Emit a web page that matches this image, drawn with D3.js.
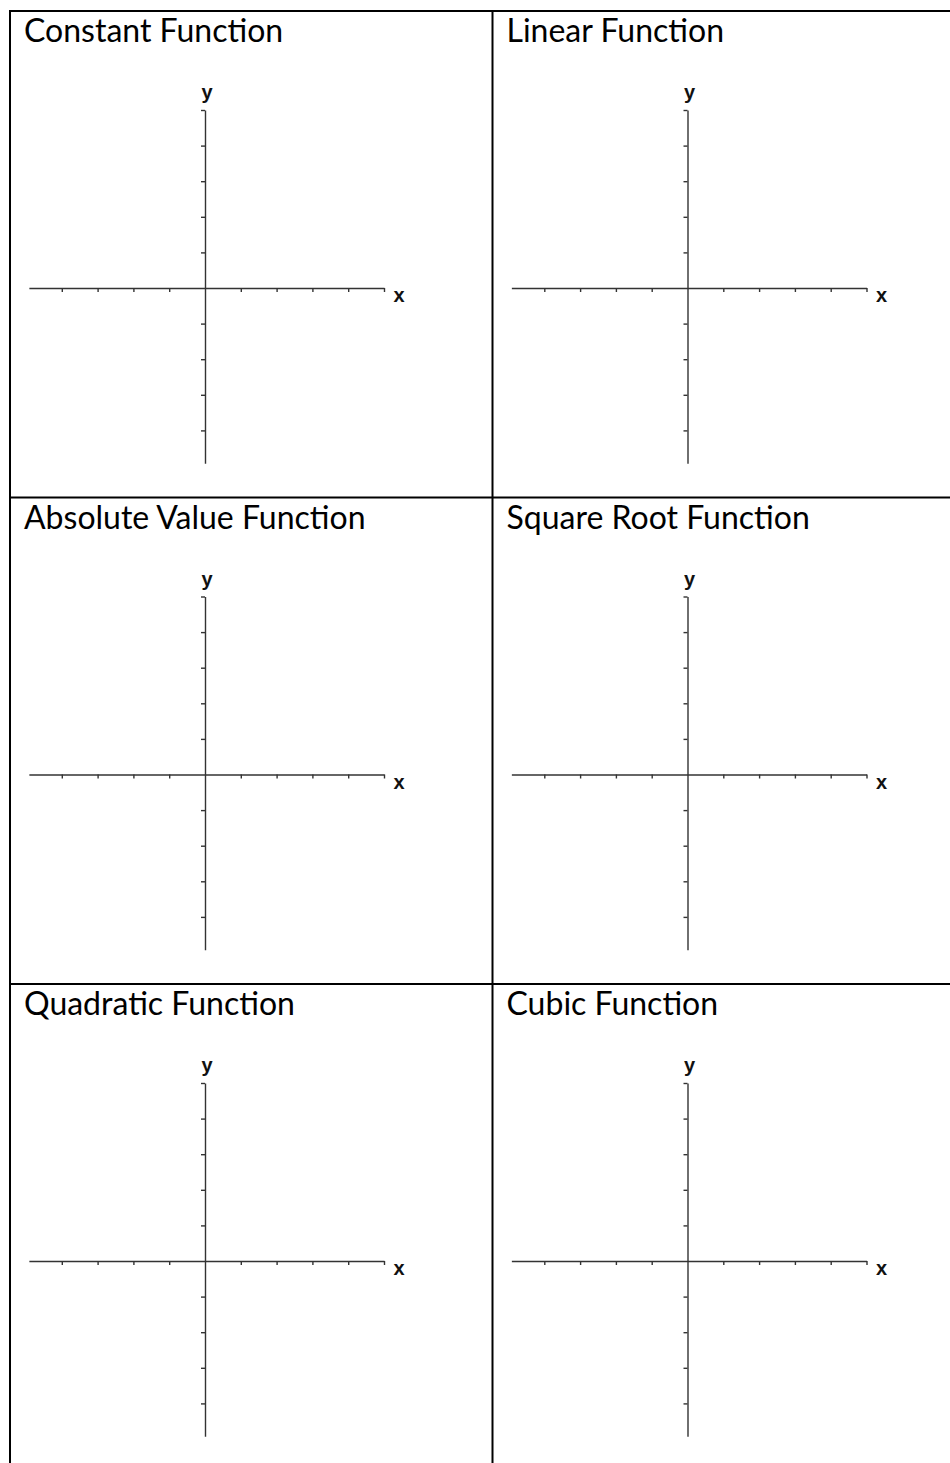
<!DOCTYPE html>
<html>
<head>
<meta charset="utf-8">
<script src="https://cdn.jsdelivr.net/npm/d3@7"></script>
<style>
  html, body { margin: 0; padding: 0; background: #fff; }
  .table-line { stroke: #000; stroke-width: 2; }
</style>
</head>
<body>
<div id="chart"></div>
<script>
// data
var titles = [
  "Constant Function", "Linear Function",
  "Absolute Value Function", "Square Root Function",
  "Quadratic Function", "Cubic Function"
];
var x_ticks = [-4, -3, -2, -1, 1, 2, 3, 4, 5];
var y_ticks = [-4, -3, -2, -1, 1, 2, 3, 4, 5];
var x_domain = [-4.92, 5];
var y_domain = [-4.92, 5];
var axis_names = ["x", "y"];

var page = { w: 950, h: 1463 };

var table = {
  left: 10,
  top: 11,
  col_w: 482.5,
  row_h: 486.5,
  cols: 2,
  rows: 3
};

// position of the origin inside a cell, and size of one unit
var cell_origin = { x: 195, y: 277 };
var unit_x = 35.8;
var unit_y = 35.6;

function cell_scales() {
  var x = d3.scaleLinear()
    .domain(x_domain)
    .range(x_domain.map(d => cell_origin.x + d * unit_x));

  var y = d3.scaleLinear()
    .domain(y_domain)
    .range(y_domain.map(d => cell_origin.y - d * unit_y));

  return { x: x, y: y };
};

function draw_table(svg) {
  var bottom = table.top + table.rows * table.row_h;
  var right = table.left + table.cols * table.col_w;

  for (var c = 0; c <= table.cols; c++) {
    var xx = table.left + c * table.col_w;
    svg.append('line')
      .attr('class', 'table-line')
      .attr('x1', xx).attr('x2', xx)
      .attr('y1', table.top - 1).attr('y2', bottom + 1);
  }

  for (var r = 0; r <= table.rows; r++) {
    var yy = table.top + r * table.row_h;
    svg.append('line')
      .attr('class', 'table-line')
      .attr('x1', table.left - 1).attr('x2', right + 1)
      .attr('y1', yy).attr('y2', yy);
  }
};

function style_axis(sel) {
  sel.selectAll('path, line')
    .attr('stroke', '#333')
    .attr('stroke-width', 1.4);
};

function axis_label(g, x, y, txt) {
  g.append('text')
    .attr('text-anchor', 'middle')
    .attr('x', x)
    .attr('y', y)
    .attr('font-family', '"Liberation Sans", Arial, sans-serif')
    .attr('font-weight', 'bold')
    .attr('font-size', 20)
    .attr('fill', '#111')
    .text(txt);
};

function draw_cell(svg, title, i) {
  var col = i % table.cols;
  var row = Math.floor(i / table.cols);

  var g = svg.append('g')
    .attr('class', 'cell')
    .attr('transform', `translate(${ table.left + col * table.col_w }, ${ table.top + row * table.row_h })`);

  g.append('text')
    .attr('x', 14)
    .attr('y', 31)
    .attr('font-family', 'Lato, "Open Sans", sans-serif')
    .attr('font-size', 32)
    .attr('fill', '#000')
    .text(title);

  var s = cell_scales();

  g.append('g')
    .attr('class', 'axis x-axis')
    .attr('transform', `translate(0, ${ s.y(0) })`)
    .call(d3.axisBottom(s.x)
          .tickValues(x_ticks)
          .tickSize(4)
          .tickSizeOuter(0)
          .tickFormat(''))
    .call(style_axis);

  g.append('g')
    .attr('class', 'axis y-axis')
    .attr('transform', `translate(${ s.x(0) }, 0)`)
    .call(d3.axisLeft(s.y)
          .tickValues(y_ticks)
          .tickSize(4)
          .tickSizeOuter(0)
          .tickFormat(''))
    .call(style_axis);

  axis_label(g, s.x(x_domain[1]) + 15, s.y(0) + 14, axis_names[0]);
  axis_label(g, s.x(0) + 2, s.y(y_domain[1]) - 11, axis_names[1]);
};

var svg = d3.select('#chart').append('svg')
  .attr('width', page.w)
  .attr('height', page.h);

svg.append('rect')
  .attr('width', page.w)
  .attr('height', page.h)
  .attr('fill', '#fff');

titles.forEach((t, i) => draw_cell(svg, t, i));
draw_table(svg);
</script>
</body>
</html>
